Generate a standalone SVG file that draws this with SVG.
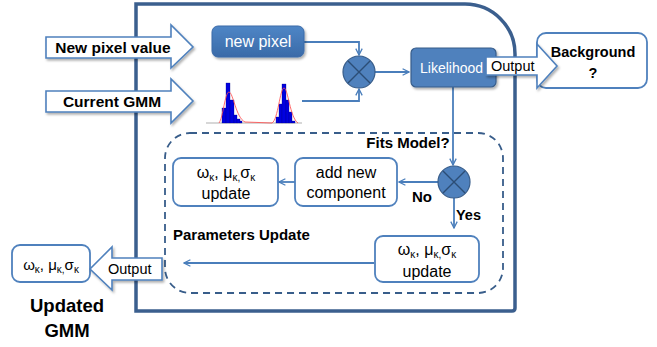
<svg xmlns="http://www.w3.org/2000/svg" width="657" height="347" viewBox="0 0 657 347">
<style>
text{font-family:"Liberation Sans",Arial,sans-serif;fill:#000}
.b{font-weight:bold}
.w{fill:#fff}
.c{text-anchor:middle}
.blk{fill:#fff;stroke:#4f81bd;stroke-width:1.6;filter:url(#sh)}
.box{fill:#fff;stroke:#4f81bd;stroke-width:1.8}
.ln{fill:none;stroke:#4a7ebb;stroke-width:1.8}
.sub{font-size:10px}
</style>
<defs>
<marker id="ah" viewBox="0 0 10 10" refX="9" refY="5" markerWidth="8" markerHeight="8" markerUnits="userSpaceOnUse" orient="auto">
<path d="M1,1 L9,5 L1,9" fill="none" stroke="#4a7ebb" stroke-width="1.6"/>
</marker>
<linearGradient id="gb" x1="0" y1="0" x2="0" y2="1">
<stop offset="0" stop-color="#4f86c6"/>
<stop offset="1" stop-color="#3a6aa8"/>
</linearGradient>
<filter id="sh" x="-10%" y="-10%" width="130%" height="140%">
<feDropShadow dx="1.5" dy="2" stdDeviation="1.2" flood-color="#000" flood-opacity="0.3"/>
</filter>
</defs>

<g id="frame">
<path d="M136,4 H465 A50,50 0 0 1 515,54 V308 Q515,311 512,311 H136 Z" fill="none" stroke="#3b5f8e" stroke-width="3.5"/>
</g>

<g id="update-region">
<rect x="165" y="133" width="338" height="160" rx="25" fill="none" stroke="#385d8a" stroke-width="1.8" stroke-dasharray="7,5"/>
<text class="b" x="173" y="240" font-size="15">Parameters Update</text>
</g>

<g id="connectors">
<path class="ln" d="M304,42 H359 V55" marker-end="url(#ah)"/>
<path class="ln" d="M302,101 H359 V89" marker-end="url(#ah)"/>
<path class="ln" d="M375,72 H409" marker-end="url(#ah)"/>
<path class="ln" d="M453,87 V165" marker-end="url(#ah)"/>
<path class="ln" d="M438,182 H399" marker-end="url(#ah)"/>
<path class="ln" d="M295,182 H279" marker-end="url(#ah)"/>
<path class="ln" d="M454,198 V228" marker-end="url(#ah)"/>
<path class="ln" d="M374,263 H184" marker-end="url(#ah)"/>
<text class="b" x="408" y="148" font-size="15" text-anchor="middle">Fits Model?</text>
<text class="b" x="412" y="202" font-size="15">No</text>
<text class="b" x="456" y="220" font-size="14.5">Yes</text>
</g>

<g id="in-new-pixel">
<polygon class="blk" points="46,37 171,37 171,25 193,47 171,68 171,58 46,58"/>
<text class="b c" x="113" y="53" font-size="15.5">New pixel value</text>
</g>

<g id="in-current-gmm">
<polygon class="blk" points="46,91 171,91 171,79 193,101 171,123 171,112 46,112"/>
<text class="b c" x="112" y="107" font-size="15.5">Current GMM</text>
</g>

<g id="new-pixel">
<rect x="212" y="26" width="92" height="31" rx="6" fill="url(#gb)" stroke="#3a6aa8" stroke-width="1" filter="url(#sh)"/>
<text class="w c" x="258" y="47" font-size="16">new pixel</text>
</g>

<g id="histogram">
<line x1="206" y1="123" x2="302" y2="123" stroke="#b0b0b0" stroke-width="1.2"/>
<g fill="#0000e0" stroke="#000080" stroke-width="0.3">
<rect x="222" y="108" width="4" height="15"/>
<rect x="226" y="83" width="4" height="40"/>
<rect x="230" y="100" width="4" height="23"/>
<rect x="234" y="115" width="3" height="8"/>
<rect x="237" y="119" width="3" height="4"/>
<rect x="240" y="121" width="2" height="2"/>
<rect x="276" y="117" width="3" height="6"/>
<rect x="279" y="104" width="3" height="19"/>
<rect x="282" y="84" width="4" height="39"/>
<rect x="286" y="100" width="3" height="23"/>
<rect x="289" y="112" width="3" height="11"/>
<rect x="292" y="121" width="3" height="2"/>
</g>
<path d="M219,123 C223,118 225,92 229,92 C233,92 236,118 245,122 L272,123 C278,120 280,88 284,88 C288,88 290,118 298,123" fill="none" stroke="#ff5050" stroke-width="1" opacity="0.85"/>
</g>

<g id="mult1">
<circle cx="359" cy="72" r="16" fill="#4f81bd" stroke="#385d8a" stroke-width="1.2"/>
<path d="M348,61 L370,83 M370,61 L348,83" stroke="#2c4d75" stroke-width="1.4"/>
</g>

<g id="likelihood">
<rect x="411" y="48" width="85" height="39" rx="5" fill="#4f81bd" stroke="#385d8a" stroke-width="1.2" filter="url(#sh)"/>
<text class="w" x="420" y="73" font-size="14">Likelihood</text>
</g>

<g id="background">
<rect class="box" x="537" y="33" width="110" height="55" rx="9"/>
<text class="b c" x="593" y="57" font-size="14.5">Background</text>
<text class="b c" x="593" y="78" font-size="14.5">?</text>
</g>

<g id="out-right">
<polygon class="blk" points="486,57 537,57 537,44 557,66 537,88 537,75 486,75"/>
<text x="491" y="71" font-size="14.5">Output</text>
</g>

<g id="mult2">
<circle cx="454" cy="182" r="16" fill="#4f81bd" stroke="#385d8a" stroke-width="1.2"/>
<path d="M443,171 L465,193 M465,171 L443,193" stroke="#2c4d75" stroke-width="1.4"/>
</g>

<g id="add-component">
<rect class="box" x="295" y="158" width="102" height="48" rx="8"/>
<text class="c" x="346" y="178" font-size="16">add new</text>
<text class="c" x="346" y="198" font-size="16">component</text>
</g>

<g id="update-new">
<rect class="box" x="173" y="158" width="105" height="48" rx="8"/>
<text class="c" x="226" y="178" font-size="16">ω<tspan class="sub" dy="2.5">κ</tspan><tspan dy="-2.5">, μ</tspan><tspan class="sub" dy="2.5">κ,</tspan><tspan dy="-2.5">σ</tspan><tspan class="sub" dy="2.5">κ</tspan></text>
<text class="c" x="226" y="199" font-size="16">update</text>
</g>

<g id="update-fit">
<rect class="box" x="375" y="236" width="104" height="46" rx="8"/>
<text class="c" x="427" y="255" font-size="16">ω<tspan class="sub" dy="2.5">κ</tspan><tspan dy="-2.5">, μ</tspan><tspan class="sub" dy="2.5">κ,</tspan><tspan dy="-2.5">σ</tspan><tspan class="sub" dy="2.5">κ</tspan></text>
<text class="c" x="427" y="277" font-size="16">update</text>
</g>

<g id="result">
<rect class="box" x="12" y="245" width="78" height="37" rx="8"/>
<text class="c" x="51" y="270" font-size="15">ω<tspan class="sub" dy="2.5">κ</tspan><tspan dy="-2.5">, μ</tspan><tspan class="sub" dy="2.5">κ,</tspan><tspan dy="-2.5">σ</tspan><tspan class="sub" dy="2.5">κ</tspan></text>
</g>

<g id="out-left">
<polygon class="blk" points="162,258 112,258 112,247 90,269 112,290 112,280 162,280"/>
<text x="108" y="274" font-size="14.5">Output</text>
</g>

<g id="updated-gmm">
<text class="b c" x="67" y="312" font-size="18.5">Updated</text>
<text class="b c" x="67" y="337" font-size="18.5">GMM</text>
</g>
</svg>
